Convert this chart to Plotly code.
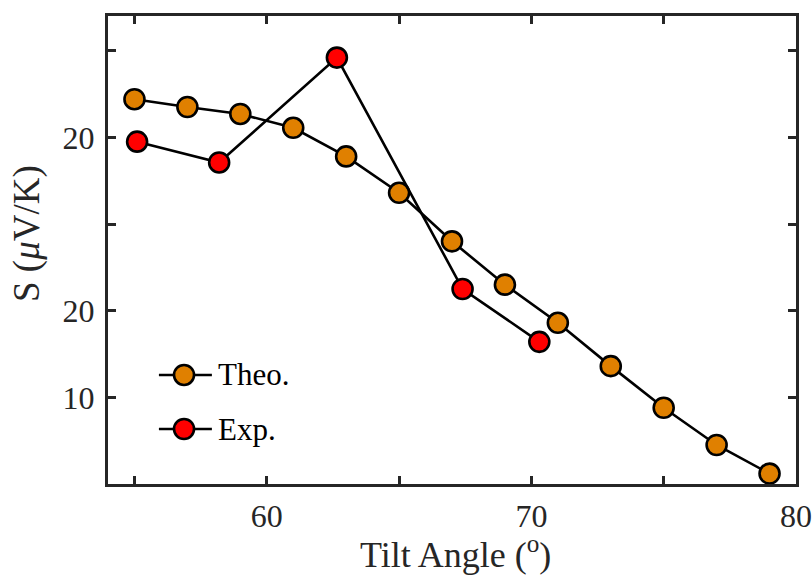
import plotly.graph_objects as go

# Theoretical Seebeck coefficient vs. tilt angle
theo_angle = [55, 57, 59, 61, 63, 65, 67, 69, 71, 73, 75, 77, 79]
theo_s = [44.4, 43.5, 42.7, 41.1, 37.8, 33.6, 28.0, 23.0, 18.6, 13.6, 8.8, 4.5, 1.2]

# Experimental points
exp_angle = [55.1, 58.2, 62.65, 67.4, 70.3]
exp_s = [39.5, 37.1, 49.2, 22.5, 16.4]

# labelled ticks (labels as printed on the axis)
y_tickvals = [10, 20, 40]
y_ticktext = ["10", "20", "20"]
x_tickvals = [60, 70, 80]
x_ticktext = ["60", "70", "80"]
# unlabelled ticks
y_minor = [30, 50]
x_minor = [55, 65, 75]

series_names = ["Theo.", "Exp."]
series_colors = ["#E08000", "#FF0000"]

FONT = "Liberation Serif, Times New Roman, serif"
AX = "#262626"

fig = go.Figure()
for xs, ys, name, col in [(theo_angle, theo_s, series_names[0], series_colors[0]),
                          (exp_angle, exp_s, series_names[1], series_colors[1])]:
    fig.add_trace(go.Scatter(
        x=xs, y=ys, mode="lines+markers", name=name, showlegend=False,
        line=dict(color="black", width=2.6),
        marker=dict(size=20, color=col, line=dict(color="black", width=2.6)),
        cliponaxis=False,
    ))

tick_style = dict(ticks="inside", ticklen=8, tickwidth=3, tickcolor=AX, showgrid=False)
axis_common = dict(
    showline=True, linecolor=AX, linewidth=3, mirror="allticks",
    showgrid=False, zeroline=False, automargin=False,
    ticklabeloverflow="allow",
    tickfont=dict(family=FONT, size=32, color=AX),
    **{k: v for k, v in tick_style.items() if k != "showgrid"},
)

fig.update_xaxes(
    range=[54, 80], tickvals=x_tickvals, ticktext=x_ticktext,
    minor=dict(tickvals=x_minor, **tick_style),
    ticklabelstandoff=2,
    **axis_common,
)
fig.update_yaxes(
    range=[0, 54], tickvals=y_tickvals, ticktext=y_ticktext,
    minor=dict(tickvals=y_minor, **tick_style),
    ticklabelstandoff=4,
    **axis_common,
)

# axis titles as annotations
fig.add_annotation(
    text="Tilt Angle (<sup>o</sup>)", showarrow=False,
    xref="paper", yref="paper", x=0.505, y=-0.146, xanchor="center", yanchor="middle",
    font=dict(family=FONT, size=36, color=AX),
)
fig.add_annotation(
    text="S (<i>μ</i>V/K)", textangle=-90, showarrow=False,
    xref="paper", yref="paper", x=-0.118, y=0.536, xanchor="center", yanchor="middle",
    font=dict(family=FONT, size=37, color=AX),
)

# legend drawn in the lower-left corner of the plot area
legend_y = [0.233, 0.1175]
for name, col, ly in zip(series_names, series_colors, legend_y):
    fig.add_shape(type="line", xref="paper", yref="paper",
                  x0=0.074, x1=0.151, y0=ly, y1=ly,
                  line=dict(color="black", width=2.6), layer="above")
    fig.add_shape(type="circle", xref="paper", yref="paper",
                  xsizemode="pixel", ysizemode="pixel",
                  xanchor=0.1105, yanchor=ly, x0=-10, x1=10, y0=-10, y1=10,
                  fillcolor=col, line=dict(color="black", width=2.6), layer="above")
    fig.add_annotation(text=name, showarrow=False, xref="paper", yref="paper",
                       x=0.157, y=ly, xanchor="left", yanchor="middle",
                       font=dict(family=FONT, size=31, color="black"))

fig.update_layout(
    width=812, height=576,
    margin=dict(l=108, r=16, t=16, b=92),
    paper_bgcolor="white", plot_bgcolor="white",
    showlegend=False,
)

fig.write_html("out.html")
